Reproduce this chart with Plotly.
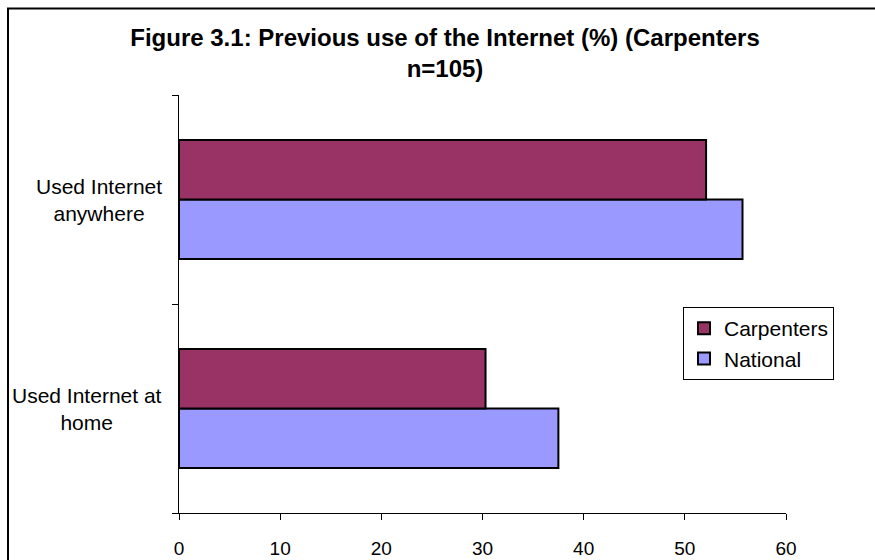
import plotly.graph_objects as go

# Survey categories (bottom to top) and percentages
categories = ["Used Internet at home", "Used Internet anywhere"]
category_labels = ["Used Internet at<br>home", "Used Internet<br>anywhere"]
carpenters = [30.3, 52.1]
national = [37.5, 55.7]
x_ticks = [0, 10, 20, 30, 40, 50, 60]

FONT = "Liberation Sans, Arial, sans-serif"

# Plot area in pixels
L, R, T, B = 179, 786, 95, 513
W, H = R - L, B - T

fig = go.Figure()
fig.add_trace(go.Bar(
    y=categories, x=national, orientation="h", name="National",
    marker=dict(color="#9999FF", line=dict(color="black", width=2)),
    legendrank=2,
))
fig.add_trace(go.Bar(
    y=categories, x=carpenters, orientation="h", name="Carpenters",
    marker=dict(color="#993366", line=dict(color="black", width=2)),
    legendrank=1,
))

# Centered multi-line category labels, right-aligned to the axis
for cat, lab in zip(categories, category_labels):
    fig.add_annotation(
        x=(164 - L) / W, xref="paper", y=cat, yref="y", text=lab,
        showarrow=False, align="center", xanchor="right", yanchor="middle",
        font=dict(family=FONT, size=21, color="black"),
    )

# Outer chart border
fig.add_shape(
    type="rect", xref="paper", yref="paper",
    x0=(8 - L) / W, x1=1.3, y0=-0.3, y1=(B - 8.5) / H,
    line=dict(color="black", width=2), fillcolor="rgba(0,0,0,0)", layer="below",
)

fig.update_layout(
    width=875, height=560,
    margin=dict(l=L, r=875 - R, t=T, b=560 - B),
    paper_bgcolor="white", plot_bgcolor="white",
    barmode="group", bargap=0.43, bargroupgap=0,
    font=dict(family=FONT, size=19, color="black"),
    title=dict(
        text="<b>Figure 3.1: Previous use of the Internet (%) (Carpenters<br>n=105)</b>",
        x=445 / 875, xanchor="center", y=1 - 46 / 560, yanchor="top",
        font=dict(family=FONT, size=24, color="black"),
    ),
    xaxis=dict(
        range=[0, 60], tickvals=x_ticks, showgrid=False, zeroline=False,
        showline=True, linecolor="black", linewidth=1, automargin=False,
        ticks="outside", ticklen=6, tickcolor="black", ticklabelstandoff=12,
        tickfont=dict(family=FONT, size=19, color="black"),
    ),
    yaxis=dict(
        categoryorder="array", categoryarray=categories,
        showticklabels=False, showgrid=False, zeroline=False,
        showline=True, linecolor="black", linewidth=1,
        ticks="outside", ticklen=6, tickcolor="black", tickson="boundaries",
    ),
    legend=dict(
        x=(683 - L) / W, y=(B - 307) / H, xanchor="left", yanchor="top",
        bordercolor="black", borderwidth=1, bgcolor="white",
        font=dict(family=FONT, size=21, color="black"),
        tracegroupgap=0,
    ),
)

fig.write_html("out.html")
